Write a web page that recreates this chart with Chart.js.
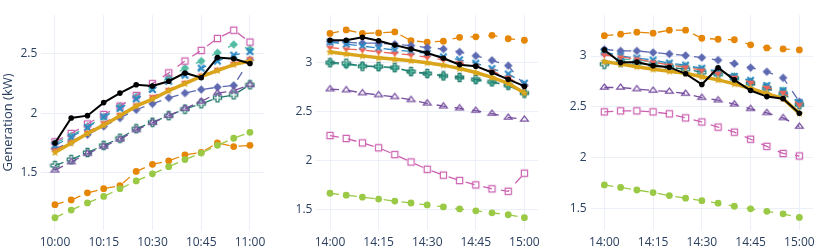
<!DOCTYPE html>
<html><head><meta charset="utf-8">
<script src="https://cdn.jsdelivr.net/npm/chart.js@4.4.1/dist/chart.umd.min.js"></script>
<style>
html,body{margin:0;padding:0;background:#fff;width:830px;height:249px;overflow:hidden}
canvas{position:absolute;left:0;top:0}
</style></head><body>
<canvas id="c1" width="830" height="249"></canvas>
<canvas id="c2" width="830" height="249"></canvas>
<canvas id="c3" width="830" height="249"></canvas>
<script>
// ---------- data ----------
const times1 = ["10:00","10:05","10:10","10:15","10:20","10:25","10:30","10:35","10:40","10:45","10:50","10:55","11:00"];
const times23 = ["14:00","14:05","14:10","14:15","14:20","14:25","14:30","14:35","14:40","14:45","14:50","14:55","15:00"];
const xTicks1 = ["10:00","10:15","10:30","10:45","11:00"];
const xTicks23 = ["14:00","14:15","14:30","14:45","15:00"];
const yTicks1 = [1.5, 2, 2.5];
const yTicks2 = [1.5, 2, 2.5, 3];
const yTicks3 = [1.5, 2, 2.5, 3];
const yTitle = "Generation (kW)";

// panel 1
const actual1   = [1.75,1.96,1.98,2.09,2.17,2.24,2.23,2.27,2.34,2.30,2.47,2.46,2.42];
const orange1   = [1.23,1.27,1.33,1.365,1.39,1.51,1.57,1.60,1.65,1.67,1.75,1.72,1.73];
const darkBlue1 = [1.70,1.76,1.82,1.89,1.96,2.03,2.08,2.13,2.17,2.20,2.22,2.235,2.45];
const teal1     = [1.75,1.81,1.89,1.97,2.06,2.14,2.22,2.30,2.38,2.44,2.51,2.58,2.54];
const lime1     = [1.12,1.185,1.245,1.30,1.365,1.43,1.49,1.55,1.61,1.665,1.73,1.79,1.84];
const pink1     = [1.76,1.83,1.91,1.99,2.06,2.15,2.25,2.34,2.44,2.53,2.63,2.70,2.60];
const dkGreen1  = [1.56,1.61,1.67,1.73,1.79,1.87,1.925,1.98,2.035,2.08,2.13,2.155,2.24];
const gold1     = [1.67,1.75,1.83,1.90,1.98,2.06,2.12,2.19,2.25,2.31,2.36,2.41,2.44];
const blue1     = [1.73,1.80,1.88,1.97,2.04,2.12,2.20,2.27,2.32,2.38,2.44,2.49,2.52];
const purple1   = [1.52,1.59,1.66,1.72,1.78,1.86,1.92,1.98,2.04,2.10,2.17,2.19,2.24];
const red1      = [1.69,1.76,1.84,1.92,1.99,2.07,2.14,2.20,2.26,2.32,2.37,2.42,2.46];

// panel 2
const actual2   = [3.23,3.23,3.26,3.225,3.18,3.14,3.10,3.045,2.98,2.965,2.90,2.83,2.76];
const orange2   = [3.30,3.335,3.30,3.305,3.315,3.225,3.21,3.22,3.26,3.265,3.28,3.245,3.23];
const darkBlue2 = [3.215,3.21,3.20,3.20,3.19,3.175,3.155,3.14,3.11,3.07,3.025,2.97,2.77];
const teal2     = [3.0,2.975,2.97,2.955,2.945,2.905,2.885,2.865,2.85,2.82,2.80,2.765,2.69];
const lime2     = [1.665,1.645,1.625,1.605,1.585,1.565,1.545,1.525,1.505,1.485,1.465,1.445,1.415];
const pink2     = [2.255,2.225,2.18,2.13,2.06,1.985,1.91,1.85,1.795,1.75,1.71,1.685,1.87];
const dkGreen2  = [3.0,2.995,2.965,2.96,2.95,2.91,2.89,2.865,2.85,2.83,2.805,2.77,2.69];
const gold2     = [3.11,3.09,3.07,3.05,3.035,3.02,3.00,2.975,2.94,2.90,2.85,2.79,2.69];
const blue2     = [3.21,3.19,3.17,3.15,3.13,3.115,3.095,3.06,3.03,2.995,2.94,2.885,2.79];
const purple2   = [2.73,2.72,2.69,2.67,2.65,2.62,2.585,2.555,2.535,2.51,2.48,2.44,2.42];
const red2      = [3.155,3.14,3.13,3.11,3.095,3.08,3.055,3.03,3.00,2.965,2.915,2.85,2.75];

// panel 3
const actual3   = [3.06,2.935,2.94,2.905,2.89,2.825,2.72,2.885,2.765,2.66,2.60,2.58,2.435];
const orange3   = [3.20,3.215,3.235,3.225,3.255,3.255,3.175,3.165,3.16,3.11,3.08,3.07,3.06];
const darkBlue3 = [3.065,3.05,3.05,3.035,3.02,3.005,2.985,2.96,2.925,2.885,2.845,2.785,2.55];
const teal3     = [3.03,2.97,2.96,2.94,2.92,2.90,2.87,2.84,2.80,2.75,2.70,2.66,2.53];
const lime3     = [1.73,1.705,1.68,1.655,1.625,1.60,1.575,1.55,1.52,1.495,1.47,1.445,1.41];
const pink3     = [2.45,2.46,2.46,2.45,2.43,2.39,2.35,2.30,2.25,2.18,2.11,2.04,2.015];
const dkGreen3  = [2.92,2.94,2.93,2.91,2.89,2.87,2.84,2.82,2.78,2.73,2.68,2.63,2.52];
const gold3     = [2.945,2.92,2.895,2.87,2.85,2.83,2.795,2.765,2.725,2.68,2.63,2.58,2.435];
const blue3     = [3.04,3.0,2.98,2.96,2.93,2.91,2.88,2.85,2.80,2.76,2.71,2.66,2.54];
const purple3   = [2.69,2.69,2.675,2.66,2.65,2.63,2.59,2.565,2.525,2.48,2.44,2.39,2.305];
const red3      = [3.01,2.99,2.97,2.94,2.91,2.89,2.86,2.83,2.79,2.74,2.69,2.64,2.52];

// ---------- styling ----------
const FONT = "'Open Sans', 'Noto Sans', sans-serif";
const TXT = '#2a3f5f';
const GRID = '#ebf0f8';
const C = {
  orange:'rgb(229,134,6)', darkBlue:'rgb(93,105,177)', teal:'rgb(82,188,163)',
  lime:'rgb(153,201,69)', pink:'rgb(204,97,176)', dkGreen:'rgb(36,121,108)',
  gold:'rgb(218,165,27)', blue:'rgb(47,138,196)', purple:'rgb(118,78,159)',
  red:'rgb(237,100,90)', black:'#000'
};

function sym(type, color, r) {
  const s = Math.ceil(r * 2 + 4);
  const c = document.createElement('canvas');
  c.width = s; c.height = s;
  const g = c.getContext('2d');
  g.translate(s / 2, s / 2);
  g.fillStyle = color; g.strokeStyle = color; g.lineWidth = 1.2;
  g.beginPath();
  if (type === 'diamond') {
    const d = r * 1.25;
    g.moveTo(0, -d); g.lineTo(d, 0); g.lineTo(0, d); g.lineTo(-d, 0); g.closePath(); g.fill();
  } else if (type === 'square-open') {
    g.rect(-r + 0.3, -r + 0.3, 2 * r - 0.6, 2 * r - 0.6); g.stroke();
  } else if (type === 'cross-open') {
    const t = r * 1.2, w = r * 0.42;
    g.moveTo(w, t); g.lineTo(w, w); g.lineTo(t, w); g.lineTo(t, -w); g.lineTo(w, -w); g.lineTo(w, -t);
    g.lineTo(-w, -t); g.lineTo(-w, -w); g.lineTo(-t, -w); g.lineTo(-t, w); g.lineTo(-w, w); g.lineTo(-w, t);
    g.closePath(); g.stroke();
  } else if (type === 'triangle-up-open') {
    const rt = r * 2 / Math.sqrt(3);
    g.moveTo(-rt, r / 2); g.lineTo(rt, r / 2); g.lineTo(0, -r); g.closePath(); g.stroke();
  } else if (type === 'triangle-down') {
    const rt = r * 2 / Math.sqrt(3);
    g.moveTo(-rt, -r / 2); g.lineTo(rt, -r / 2); g.lineTo(0, r); g.closePath(); g.fill();
  } else if (type === 'x') {
    const d = r * 0.95;
    g.lineWidth = 2.2;
    g.moveTo(-d, -d); g.lineTo(d, d); g.moveTo(d, -d); g.lineTo(-d, d); g.stroke();
  } else if (type === 'star') {
    const ro = r * 1.25, ri = ro * 0.45;
    for (let i = 0; i < 10; i++) {
      const a = -Math.PI / 2 + i * Math.PI / 5, rr = i % 2 ? ri : ro;
      g.lineTo(rr * Math.cos(a), rr * Math.sin(a));
    }
    g.closePath(); g.fill();
  }
  return c;
}

function toMin(t) { const [h, m] = t.split(':').map(Number); return h * 60 + m; }

function pts(times, vals) {
  const t0 = toMin(times[0]);
  return vals.map((v, i) => ({ x: toMin(times[i]) - t0, y: v }));
}

function makeSets(times, s) {
  const R = 3.4;
  const dashed = (key, label, vals, style, order) => ({
    label, data: pts(times, vals), borderColor: C[key], backgroundColor: C[key],
    borderWidth: 1.3, borderDash: [9, 9], pointStyle: style, pointRadius: style === 'circle' ? R : 4,
    pointBorderWidth: 0, tension: 0, order
  });
  return [
    dashed('orange', 'Forecast A', s.orange, 'circle', 20),
    dashed('darkBlue', 'Forecast B', s.darkBlue, sym('diamond', C.darkBlue, R), 19),
    dashed('teal', 'Forecast C', s.teal, sym('diamond', C.teal, R), 18),
    dashed('lime', 'Forecast D', s.lime, 'circle', 17),
    dashed('pink', 'Forecast E', s.pink, sym('square-open', C.pink, R), 16),
    dashed('dkGreen', 'Forecast F', s.dkGreen, sym('cross-open', C.dkGreen, R), 15),
    dashed('blue', 'Forecast H', s.blue, sym('x', C.blue, R), 13),
    dashed('purple', 'Forecast I', s.purple, sym('triangle-up-open', C.purple, R), 12),
    dashed('red', 'Forecast J', s.red, sym('triangle-down', C.red, R), 11),
    { label: 'Ensemble', data: pts(times, s.gold), borderColor: C.gold, backgroundColor: C.gold,
      borderWidth: 3.5, pointStyle: sym('star', C.gold, R), pointRadius: 4, pointBorderWidth: 0, order: 10 },
    { label: 'Actual', data: pts(times, s.actual), borderColor: C.black, backgroundColor: C.black,
      borderWidth: 2, pointStyle: 'circle', pointRadius: 2.8, pointBorderWidth: 0, order: 1 }
  ];
}

function makeChart(id, times, xTickLabels, yTickVals, s, geo, withTitle) {
  const t0 = toMin(xTickLabels[0]);
  const tickMins = xTickLabels.map(t => toMin(t) - t0);
  const yW = withTitle ? geo.left : 30;
  new Chart(document.getElementById(id), {
    type: 'line',
    data: { datasets: makeSets(times, s) },
    options: {
      responsive: false, animation: false, events: [],
      layout: { padding: { left: geo.left - yW, right: 830 - geo.right, top: geo.top, bottom: 0 } },
      plugins: { legend: { display: false }, tooltip: { enabled: false } },
      scales: {
        x: {
          type: 'linear', min: -4.2, max: 64.2,
          grid: { color: GRID, drawTicks: false, lineWidth: 1 },
          border: { display: false },
          ticks: { padding: 5, autoSkip: false, maxRotation: 0, color: TXT,
            font: { family: FONT, size: 12 },
            callback: (v, i) => xTickLabels[i] },
          afterBuildTicks: sc => { sc.ticks = tickMins.map(v => ({ value: v })); },
          afterFit: sc => { sc.height = 249 - geo.bottom; }
        },
        y: {
          min: geo.ymin, max: geo.ymax,
          grid: { color: GRID, drawTicks: false, lineWidth: 1 },
          border: { display: false },
          ticks: { padding: 4, color: TXT, font: { family: FONT, size: 12 },
            callback: v => String(v) },
          afterBuildTicks: sc => { sc.ticks = yTickVals.map(v => ({ value: v })); },
          afterFit: sc => { sc.width = yW; },
          title: withTitle ? { display: true, text: yTitle, color: TXT,
            font: { family: FONT, size: 13 }, padding: 0 } : { display: false }
        }
      }
    }
  });
}

makeChart('c1', times1, xTicks1, yTicks1,
  { actual: actual1, orange: orange1, darkBlue: darkBlue1, teal: teal1, lime: lime1, pink: pink1,
    dkGreen: dkGreen1, gold: gold1, blue: blue1, purple: purple1, red: red1 },
  { left: 41.3, right: 263.6, top: 15, bottom: 230, ymin: 1.017, ymax: 2.828 }, true);
makeChart('c2', times23, xTicks23, yTicks2,
  { actual: actual2, orange: orange2, darkBlue: darkBlue2, teal: teal2, lime: lime2, pink: pink2,
    dkGreen: dkGreen2, gold: gold2, blue: blue2, purple: purple2, red: red2 },
  { left: 316.4, right: 538, top: 15, bottom: 230, ymin: 1.289, ymax: 3.488 }, false);
makeChart('c3', times23, xTicks23, yTicks3,
  { actual: actual3, orange: orange3, darkBlue: darkBlue3, teal: teal3, lime: lime3, pink: pink3,
    dkGreen: dkGreen3, gold: gold3, blue: blue3, purple: purple3, red: red3 },
  { left: 590.7, right: 813, top: 15, bottom: 230, ymin: 1.286, ymax: 3.404 }, false);
</script>
</body></html>
